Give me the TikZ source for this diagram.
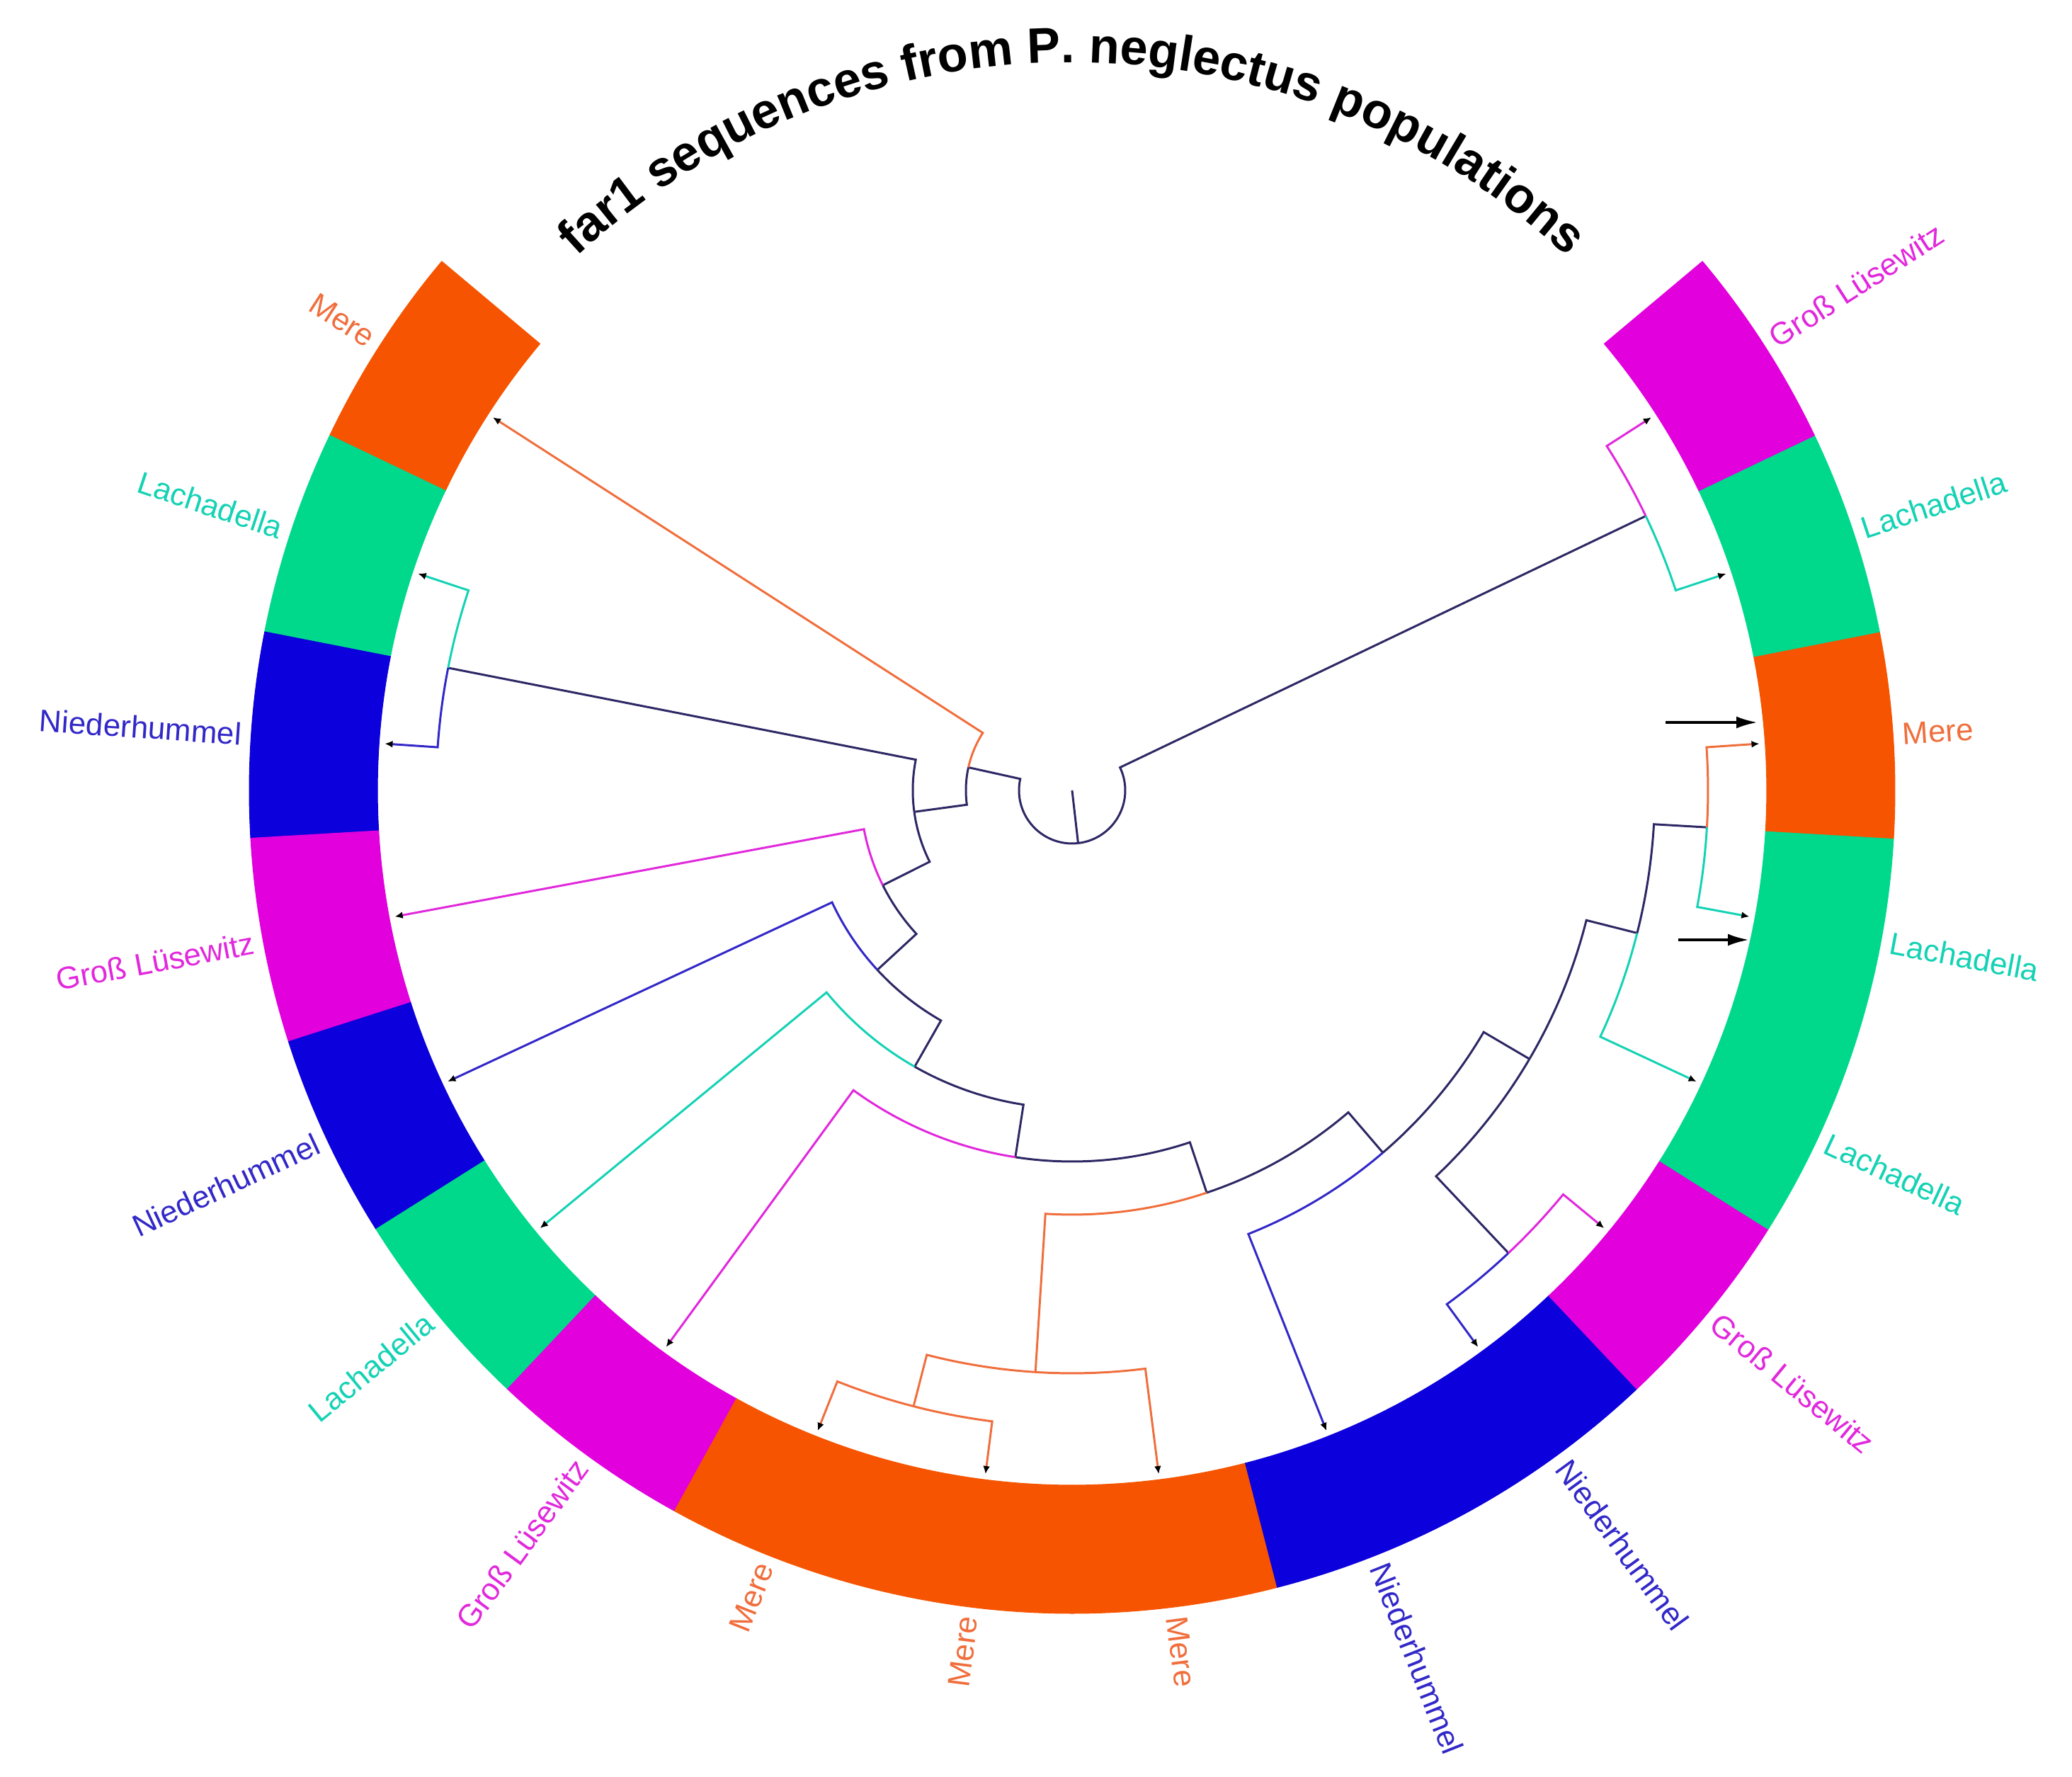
\documentclass[tikz,border=0pt]{standalone}
\usepackage{fontspec}
\setmainfont{Liberation Sans}
\usetikzlibrary{arrows.meta,decorations.text}
\definecolor{mere}{RGB}{246,84,0}
\definecolor{lach}{RGB}{0,217,140}
\definecolor{nied}{RGB}{12,0,220}
\definecolor{gross}{RGB}{226,0,220}
\definecolor{labmere}{RGB}{240,110,60}
\definecolor{lablach}{RGB}{20,210,180}
\definecolor{labnied}{RGB}{50,40,200}
\definecolor{labgross}{RGB}{225,40,220}
\definecolor{brnavy}{RGB}{45,40,100}
% one elbow of the tree: parent, its angle, child angle, parent radius, child
\newcommand\clade[6]{\draw[#1] (#2) arc[start angle=#3,end angle=#4,radius=#5] -- (#6);}

\begin{document}
\begin{tikzpicture}[
  br/.style={line width=0.85pt},
  bnavy/.style={br,draw=brnavy},
  bmere/.style={br,draw=labmere},
  blach/.style={br,draw=lablach},
  bnied/.style={br,draw=labnied},
  bgross/.style={br,draw=labgross},
  leaf/.style={-{Latex[length=3.2pt,width=2.8pt,color=black]}},
  lab/.style={font=\fontsize{12.5}{15}\selectfont,inner sep=0pt},
  pointer/.style={-{Latex[length=3mm,width=1.7mm]},line width=1.1pt}]
\useasboundingbox (-15.14,-13.93) rectangle (14.12,11.16);

% ring, labels and tips
\foreach \i/\pop/\txt in {0/mere/Mere,1/lach/Lachadella,2/nied/Niederhummel,
  3/gross/Groß Lüsewitz,4/nied/Niederhummel,5/lach/Lachadella,
  6/gross/Groß Lüsewitz,7/mere/Mere,8/mere/Mere,9/mere/Mere,
  10/nied/Niederhummel,11/nied/Niederhummel,12/gross/Groß Lüsewitz,
  13/lach/Lachadella,14/lach/Lachadella,15/mere/Mere,16/lach/Lachadella,
  17/gross/Groß Lüsewitz}{
  \pgfmathsetmacro\s{140+14.4444*\i}
  \pgfmathsetmacro\e{140+14.4444*(\i+1)}
  \pgfmathsetmacro\a{140+14.4444*(\i+0.5)}
  \ifdim\a pt<270pt
    \pgfmathsetmacro\rot{\a+180}\def\anc{east}
  \else
    \pgfmathsetmacro\rot{\a}\def\anc{west}
  \fi
  \filldraw[fill=\pop,draw=\pop,line width=0.3pt] (\s:9.81)
    arc[start angle=\s,end angle=\e,radius=9.81] -- (\e:11.62)
    arc[start angle=\e,end angle=\s,radius=11.62] -- cycle;
  \node[lab,text=lab\pop,rotate=\rot,anchor=\anc] (l\i) at (\a:11.75) {\txt};
  \coordinate (t\i) at (\a:9.73);
}

% tree nodes
\coordinate (o) at (0,0);
\coordinate (root) at (276.52:0.75);
\coordinate (nA) at (167.49:1.50);
\coordinate (nY) at (187.75:2.25);
\coordinate (n3) at (206.61:2.99);
\coordinate (n4) at (222.66:3.74);
\coordinate (n5) at (240.32:4.49);
\coordinate (n6) at (261.20:5.24);
\coordinate (n7) at (288.51:5.99);
\coordinate (n8) at (310.63:6.74);
\coordinate (n9) at (329.58:7.49);
\coordinate (m1) at (266.39:8.23);
\coordinate (na) at (345.83:8.23);
\coordinate (c12) at (168.89:8.98);
\coordinate (m2) at (255.56:8.98);
\coordinate (n10) at (313.33:8.98);
\coordinate (c1415) at (356.67:8.98);
\coordinate (c1617) at (25.56:8.98);

\draw[bnavy] (o) -- (root);
\clade{bnavy}{root}{276.52}{167.49}{0.75}{nA}
\clade{bnavy}{root}{276.52}{385.56}{0.75}{c1617}
\clade{bmere,leaf}{nA}{167.49}{147.22}{1.50}{t0}
\clade{bnavy}{nA}{167.49}{187.75}{1.50}{nY}
\clade{bnavy}{nY}{187.75}{168.89}{2.25}{c12}
\clade{blach,leaf}{c12}{168.89}{161.67}{8.98}{t1}
\clade{bnied,leaf}{c12}{168.89}{176.11}{8.98}{t2}
\clade{bnavy}{nY}{187.75}{206.61}{2.25}{n3}
\clade{bgross,leaf}{n3}{206.61}{190.56}{2.99}{t3}
\clade{bnavy}{n3}{206.61}{222.66}{2.99}{n4}
\clade{bnied,leaf}{n4}{222.66}{205.00}{3.74}{t4}
\clade{bnavy}{n4}{222.66}{240.32}{3.74}{n5}
\clade{blach,leaf}{n5}{240.32}{219.44}{4.49}{t5}
\clade{bnavy}{n5}{240.32}{261.20}{4.49}{n6}
\clade{bgross,leaf}{n6}{261.20}{233.89}{5.24}{t6}
\clade{bnavy}{n6}{261.20}{288.51}{5.24}{n7}
\clade{bmere}{n7}{288.51}{266.39}{5.99}{m1}
\clade{bnavy}{n7}{288.51}{310.63}{5.99}{n8}
\clade{bmere}{m1}{266.39}{255.56}{8.23}{m2}
\clade{bmere,leaf}{m1}{266.39}{277.22}{8.23}{t9}
\clade{bmere,leaf}{m2}{255.56}{248.33}{8.98}{t7}
\clade{bmere,leaf}{m2}{255.56}{262.78}{8.98}{t8}
\clade{bnied,leaf}{n8}{310.63}{291.67}{6.74}{t10}
\clade{bnavy}{n8}{310.63}{329.58}{6.74}{n9}
\clade{bnavy}{n9}{329.58}{313.33}{7.49}{n10}
\clade{bnied,leaf}{n10}{313.33}{306.11}{8.98}{t11}
\clade{bgross,leaf}{n10}{313.33}{320.56}{8.98}{t12}
\clade{bnavy}{n9}{329.58}{345.83}{7.49}{na}
\clade{blach,leaf}{na}{345.83}{335.00}{8.23}{t13}
\clade{bnavy}{na}{345.83}{356.67}{8.23}{c1415}
\clade{blach,leaf}{c1415}{356.67}{349.44}{8.98}{t14}
\clade{bmere,leaf}{c1415}{356.67}{363.89}{8.98}{t15}
\clade{blach,leaf}{c1617}{385.56}{378.33}{8.98}{t16}
\clade{bgross,leaf}{c1617}{385.56}{392.78}{8.98}{t17}

% marked sequences
\coordinate (p1) at (8.38,0.96);
\coordinate (q1) at (9.68,0.96);
\coordinate (p2) at (8.56,-2.11);
\coordinate (q2) at (9.56,-2.11);
\draw[pointer] (p1) -- (q1);
\draw[pointer] (p2) -- (q2);

\path[decorate,decoration={text along path,text align=center,
  text={|\bfseries\fontsize{20}{24}\selectfont|far1 sequences from P. neglectus populations}}]
  (140:10.28) arc[start angle=140,end angle=40,radius=10.28];
\end{tikzpicture}
\end{document}
